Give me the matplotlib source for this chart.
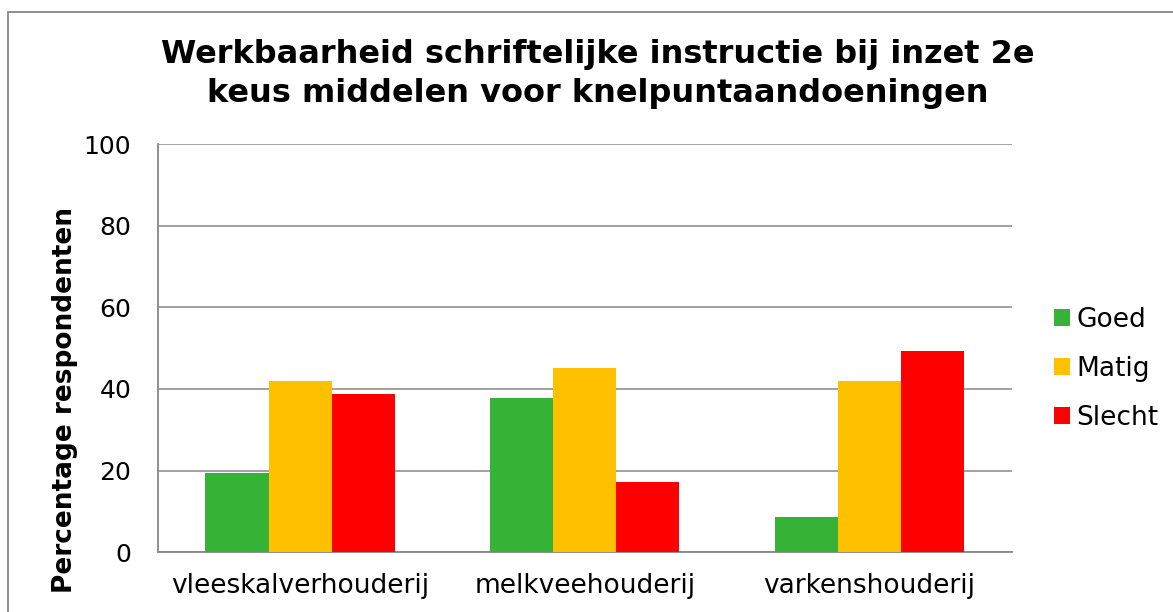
import numpy as np
import matplotlib
matplotlib.use("Agg")
import matplotlib.pyplot as plt
from matplotlib.patches import Rectangle

# Data
categories = ["vleeskalverhouderij", "melkveehouderij", "varkenshouderij"]
series = ["Goed", "Matig", "Slecht"]
goed = [19.4, 37.7, 8.6]
matig = [42.0, 45.1, 42.0]
slecht = [38.8, 17.2, 49.3]
colors = ["#36B336", "#FFC000", "#FF0000"]

plt.rcParams["font.family"] = "DejaVu Sans"

fig = plt.figure(figsize=(11.73, 6.12), dpi=100)
ax = fig.add_axes([0.1344, 0.0976, 0.7284, 0.6671])

x = np.arange(len(categories))
w = 0.2214
for i, (vals, name) in enumerate(zip([goed, matig, slecht], series)):
    ax.bar(x + (i - 1) * w, vals, width=w, color=colors[i], label=name, zorder=3)

ax.set_xlim(-0.5, len(categories) - 0.5)
ax.set_ylim(0, 100)
ax.set_yticks([0, 20, 40, 60, 80, 100])
ax.set_xticks(x)
ax.set_xticklabels(categories)

grey = "#878787"
ax.yaxis.grid(True, color=grey, linewidth=1.1, zorder=0)
ax.set_axisbelow(True)
for s in ["top", "right"]:
    ax.spines[s].set_visible(False)
for s in ["left", "bottom"]:
    ax.spines[s].set_color(grey)
    ax.spines[s].set_linewidth(1.3)
ax.tick_params(axis="y", length=0, pad=19, labelsize=18)
ax.tick_params(axis="x", length=0, pad=15, labelsize=19)

# titel
fig.text(598 / 1173, 1 - 39 / 612,
         "Werkbaarheid schriftelijke instructie bij inzet 2e\nkeus middelen voor knelpuntaandoeningen",
         ha="center", va="top", fontsize=23, fontweight="bold", linespacing=1.32)

fig.text(65 / 1173, 1 - 400 / 612, "Percentage respondenten", rotation=90,
         ha="center", va="center", fontsize=19, fontweight="bold")

ax.legend(loc="center left", bbox_to_anchor=(1.037, 0.449), frameon=False,
          fontsize=19, handlelength=0.6, handleheight=0.6, handletextpad=0.25,
          labelspacing=0.87, borderaxespad=0)

# rand om de grafiek
fig.patches.append(Rectangle((7.7 / 1173, -0.1), 1.2, 1.1 - 12.3 / 612,
                             transform=fig.transFigure, fill=False,
                             edgecolor=grey, linewidth=1.3, clip_on=False))

fig.savefig("out.png", dpi=100)
